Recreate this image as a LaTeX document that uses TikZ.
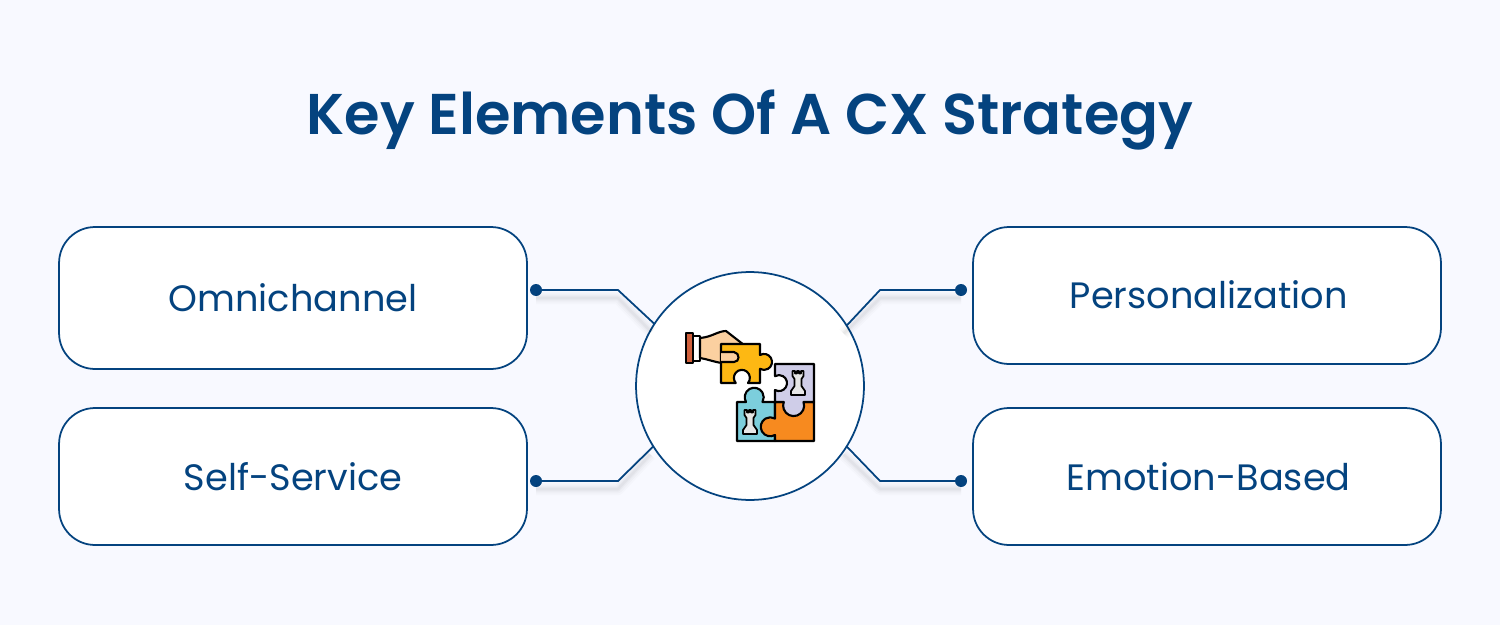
\documentclass[tikz,border=0pt]{standalone}
\usepackage{fontspec}
\setmainfont{Poppins}
\newfontfamily\titlefont{Poppins SemiBold}
\usepackage{xcolor}
\definecolor{navy}{HTML}{04437F}
\definecolor{pagebg}{HTML}{F8F9FF}
\definecolor{skin}{HTML}{FBD0A0}
\definecolor{cuffred}{HTML}{D0603C}
\definecolor{pieceyellow}{HTML}{FDB813}
\definecolor{piecelilac}{HTML}{CFCDE8}
\definecolor{pieceteal}{HTML}{7CCEDC}
\definecolor{pieceorange}{HTML}{F78A1F}
\definecolor{rookgrey}{HTML}{E6E6E6}

\tikzset{
    rookicon/.pic={
        \draw[piece, fill=rookgrey, line width=1pt] (-5.5,-12) -- (-5.5,-7) -- (-3.5,-4) -- (-3.5,3) -- (-7,8) -- (-7,12)
            -- (7,12) -- (7,8) -- (3.5,3) -- (3.5,-4) -- (5.5,-7) -- (5.5,-12) -- (3,-12) -- (3,-9.5) -- (1,-9.5)
            -- (1,-12) -- (-1,-12) -- (-1,-9.5) -- (-3,-9.5) -- (-3,-12) -- cycle;
    },
    piece/.style = {draw = black, line width = 1.2pt, line join = round}
}

\begin{document}
\begin{tikzpicture}[
            x = 0.02cm, % one unit is one pixel of the reference
            y = -0.02cm,
            boxnode/.style = {
                draw = navy,
                fill = white,
                line width = 1pt,
                rounded corners = 0.72cm,
                minimum width = 9.36cm,
                inner sep = 0pt,
                outer sep = 0pt,
                font = \fontsize{20.9}{25}\selectfont,
                text = navy
            },
            dotnode/.style = {circle, fill = navy, inner sep = 0pt, minimum size = 0.24cm},
            connector/.style = {draw = navy, line width = 1pt},
            glow/.style = {draw = black, line join = round}
        ]

        \useasboundingbox[fill = pagebg] (0,0) rectangle (1500,625);

        \node[text = navy, font = \fontsize{32.7}{38}\selectfont\titlefont] (title) at (750,120) {Key Elements Of A CX Strategy};

        \node[boxnode, minimum height = 2.84cm] (omni) at (293,298) {\raisebox{1pt}{Omnichannel}};
        \node[boxnode, minimum height = 2.74cm] (self) at (293,476.5) {Self-Service};
        \node[boxnode, minimum height = 2.74cm] (pers) at (1207,295.5) {\hspace{2pt}\raisebox{1pt}{Personalization}};
        \node[boxnode, minimum height = 2.74cm] (emot) at (1207,476.5) {\hspace{2pt}Emotion-Based};

        \node[draw = navy, fill = white, circle, line width = 1pt, minimum size = 4.56cm, inner sep = 0pt, outer sep = 0pt] (hub) at (750,386) {};

        \node[dotnode] (dotomni) at (536,290) {};
        \node[dotnode] (dotself) at (536,481) {};
        \node[dotnode] (dotpers) at (961,290) {};
        \node[dotnode] (dotemot) at (961,481) {};

        \coordinate (bendomni) at (618,290);
        \coordinate (bendself) at (618,481);
        \coordinate (bendpers) at (880,290);
        \coordinate (bendemot) at (880,481);

        % soft shadow under the connectors
        \foreach \w/\o in {7/0.015, 5/0.02, 3/0.025, 1.5/0.03} {
            \foreach \d/\a in {omni/147.7, self/212.3, pers/32.3, emot/-32.3} {
                \draw[glow, line width = \w pt, opacity = \o]
                    ([shift = {(0,8)}]dot\d.center) -- ([shift = {(0,8)}]bend\d) -- ([shift = {(-3,8)}]hub.\a);
            }
        }

        \path[connector] (dotomni.center) -- (bendomni) -- (hub.147.7);
        \path[connector] (dotself.center) -- (bendself) -- (hub.212.3);
        \path[connector] (dotpers.center) -- (bendpers) -- (hub.32.3);
        \path[connector] (dotemot.center) -- (bendemot) -- (hub.-32.3);

        % hand
        \filldraw[piece, fill = cuffred] (686,333) rectangle (693,363);
        \filldraw[piece, fill = white] (693,336) rectangle (700,361);
        \filldraw[piece, fill = skin] (700,338) .. controls (712,337) and (718,331) .. (726,331)
            -- (744,345) -- (740,362) -- (722,363) .. controls (714,362) and (707,359) .. (700,358) -- cycle;

        % puzzle pieces
        \filldraw[piece, fill = pieceyellow] (721,344) -- (760,344) -- (760,355)
            arc[start angle = -120, end angle = 120, radius = 8]
            -- (760,383) -- (748,383) arc[start angle = 40, end angle = -220, radius = 8]
            -- (721,383) -- cycle;
        \filldraw[piece, fill = skin] (721,352) -- (734,352) .. controls (740,353) and (740,362) .. (734,362) -- (721,362);

        \filldraw[piece, fill = pieceteal] (737,402) -- (746,402)
            arc[start angle = 150, end angle = 390, radius = 9.5]
            -- (775,402) -- (775,441) -- (737,441) -- cycle;
        \filldraw[piece, fill = pieceorange] (775,402) -- (814,402) -- (814,441) -- (775,441) -- (775,435)
            arc[start angle = 60, end angle = 300, radius = 9.5] -- cycle;
        \filldraw[piece, fill = piecelilac] (775,364) -- (814,364) -- (814,402) -- (803.5,402)
            arc[start angle = -20, end angle = 200, radius = 10.5]
            -- (775,402) -- (775,390) arc[start angle = 120, end angle = -120, radius = 8] -- cycle;

        \pic at (798,383) {rookicon};
        \pic at (750,422) {rookicon};
    \end{tikzpicture}
\end{document}
